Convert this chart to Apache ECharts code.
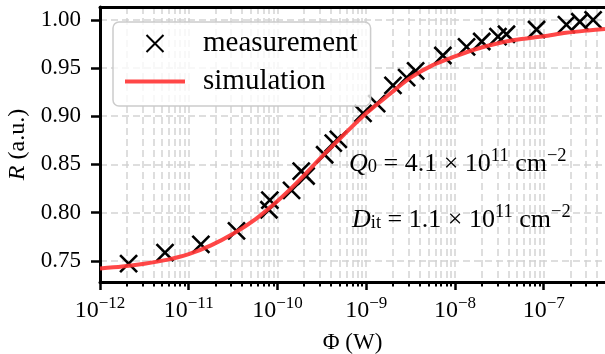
<!DOCTYPE html>
<html>
<head>
<meta charset="utf-8">
<script src="https://cdn.jsdelivr.net/npm/echarts@6/dist/echarts.min.js"></script>
<style>
  html, body { margin: 0; padding: 0; background: #fff; }
  #chart { width: 605px; height: 354px; }
</style>
</head>
<body>
<div id="chart"></div>
<script>
// measured points (Phi in W, R in a.u.)
const measX = [2.1e-12, 5.4e-12, 1.37e-11, 3.45e-11, 8.0e-11, 8.2e-11, 1.44e-10, 1.85e-10, 2.1e-10, 3.4e-10, 4.25e-10, 4.85e-10,
  9.2e-10, 1.31e-9, 2.0e-9, 2.85e-9, 3.6e-9, 7.3e-9, 1.35e-8, 2.0e-8, 3.05e-8, 3.8e-8, 8.3e-8, 1.8e-7, 2.55e-7, 3.6e-7];
const measR = [0.747, 0.7585, 0.767, 0.781, 0.803, 0.813, 0.823, 0.843, 0.838, 0.860, 0.872, 0.876,
  0.903, 0.913, 0.932, 0.940, 0.947, 0.963, 0.972, 0.9775, 0.9825, 0.985, 0.990, 0.995, 0.998, 1.000];

// simulated curve
const simX = [1e-12, 1.78e-12, 3.16e-12, 5.62e-12, 1e-11, 1.78e-11, 3.16e-11, 5.62e-11, 1e-10, 1.78e-10, 3.16e-10, 5.62e-10,
  1e-9, 1.78e-9, 3.16e-9, 5.62e-9, 1e-8, 1.78e-8, 3.16e-8, 5.62e-8, 1e-7, 1.78e-7, 3.16e-7, 4.9e-7];
const simR = [0.742, 0.744, 0.747, 0.751, 0.757, 0.766, 0.778, 0.793, 0.812, 0.834, 0.858, 0.881,
  0.903, 0.922, 0.940, 0.953, 0.962, 0.970, 0.976, 0.980, 0.983, 0.9865, 0.989, 0.9906];

// ticks
const xDecades = [1e-12, 1e-11, 1e-10, 1e-9, 1e-8, 1e-7];
const yTicks = [0.75, 0.80, 0.85, 0.90, 0.95, 1.00];
const xMin = 1e-12, xMax = 4.9e-7;
const yMin = 0.728, yMax = 1.0133;

const xMinor = [];
xDecades.forEach(d => {
  for (let m = 2; m <= 9; m++) {
    if (m * d <= xMax) xMinor.push(m * d);
  }
});

const FONT = 'Liberation Serif';
const gridColor = '#d4d4d4';
const xCross = 'path://M0,0L10,10M10,0L0,10';

function mathRich(size, subSize) {
  return {
    i: { fontFamily: FONT, fontSize: size, fontStyle: 'italic', fill: '#000', verticalAlign: 'bottom' },
    n: { fontFamily: FONT, fontSize: size, fill: '#000', verticalAlign: 'bottom' },
    sb: { fontFamily: FONT, fontSize: subSize, fill: '#000', verticalAlign: 'bottom', padding: [9, 0, 0, 0] },
    sp: { fontFamily: FONT, fontSize: subSize, fill: '#000', verticalAlign: 'top', padding: [0, 0, 11, 0] }
  };
}

const chart = echarts.init(document.getElementById('chart'));
chart.setOption({
  animation: false,
  textStyle: { fontFamily: FONT },
  grid: { left: 100, right: 0, top: 7, bottom: 72, outerBoundsMode: 'none', containLabel: false },
  legend: {
    orient: 'vertical',
    left: 113, top: 22,
    padding: [7, 13, 10, 10],
    itemWidth: 60, itemHeight: 17,
    itemGap: 9,
    backgroundColor: 'rgba(255,255,255,0.8)',
    borderColor: '#cccccc', borderWidth: 1.5, borderRadius: 6,
    textStyle: { fontFamily: FONT, fontSize: 29, color: '#000', padding: [0, 0, 0, 13] },
    data: [
      { name: 'measurement' },
      { name: 'simulation', itemStyle: { opacity: 0 }, lineStyle: { width: 4, color: '#ff3333' } }
    ]
  },
  xAxis: [{
    type: 'log', logBase: 10, min: xMin, max: xMax,
    axisLine: { lineStyle: { color: '#000', width: 3 } },
    axisTick: { customValues: xDecades, length: 8, lineStyle: { color: '#000', width: 2.5 } },
    axisLabel: {
      customValues: xDecades, margin: 13,
      formatter: v => '{b|10}{s|−' + Math.round(-Math.log10(v)) + '}',
      rich: {
        b: { fontFamily: FONT, fontSize: 24, color: '#000', verticalAlign: 'bottom' },
        s: { fontFamily: FONT, fontSize: 17, color: '#000', verticalAlign: 'top', padding: [0, 0, 11, 0] }
      }
    },
    splitLine: { show: true, lineStyle: { color: gridColor, width: 1.5, type: [7, 4] } },
    name: '{n|Φ (W)}', nameLocation: 'middle', nameGap: 49,
    nameTextStyle: { rich: { n: { fontFamily: FONT, fontSize: 23, color: '#000' } } }
  }, {
    type: 'log', logBase: 10, min: xMin, max: xMax, position: 'bottom',
    axisLine: { show: false },
    axisTick: { customValues: xMinor, length: 4.5, lineStyle: { color: '#000', width: 2 } },
    axisLabel: { show: false },
    splitLine: { show: true, lineStyle: { color: gridColor, width: 1.5, type: [7, 4] } }
  }, {
    type: 'log', logBase: 10, min: xMin, max: xMax, position: 'top',
    axisLine: { lineStyle: { color: '#000', width: 3 } },
    axisTick: { show: false }, axisLabel: { show: false }, splitLine: { show: false }
  }],
  yAxis: {
    type: 'value', min: yMin, max: yMax,
    axisLine: { show: true, lineStyle: { color: '#000', width: 3 } },
    axisTick: { customValues: yTicks, length: 9, lineStyle: { color: '#000', width: 2.5 } },
    axisLabel: {
      customValues: yTicks, margin: 19, color: '#000', fontFamily: FONT, fontSize: 23,
      formatter: v => v.toFixed(2)
    },
    splitLine: { show: true, lineStyle: { color: gridColor, width: 1.5, type: [7, 4] } },
    name: '{i|R}{n| (a.u.)}', nameLocation: 'middle', nameGap: 70,
    nameTextStyle: {
      rich: {
        i: { fontFamily: FONT, fontSize: 24, fontStyle: 'italic', color: '#000' },
        n: { fontFamily: FONT, fontSize: 24, color: '#000' }
      }
    }
  },
  graphic: [{
    type: 'text', left: 349, top: 147, z: 50,
    style: { text: '{i|Q}{sb|0}{n| = 4.1 × 10}{sp|11}{n| cm}{sp|−2}', rich: mathRich(26, 18.5) }
  }, {
    type: 'text', left: 352, top: 203, z: 50,
    style: { text: '{i|D}{sb|it}{n| = 1.1 × 10}{sp|11}{n| cm}{sp|−2}', rich: mathRich(26, 18.5) }
  }],
  series: [{
    name: 'measurement',
    type: 'scatter',
    data: measX.map((x, i) => [x, measR[i]]),
    symbol: xCross, symbolSize: 17,
    itemStyle: { color: '#000', borderColor: '#000', borderWidth: 2.6, opacity: 1 },
    z: 3
  }, {
    name: 'simulation',
    type: 'line',
    data: simX.map((x, i) => [x, simR[i]]),
    showSymbol: false, symbol: 'none', smooth: 0.3,
    lineStyle: { color: '#ff3333', width: 4, opacity: 0.9 },
    itemStyle: { color: '#ff3333' },
    z: 4
  }]
});
</script>
</body>
</html>
